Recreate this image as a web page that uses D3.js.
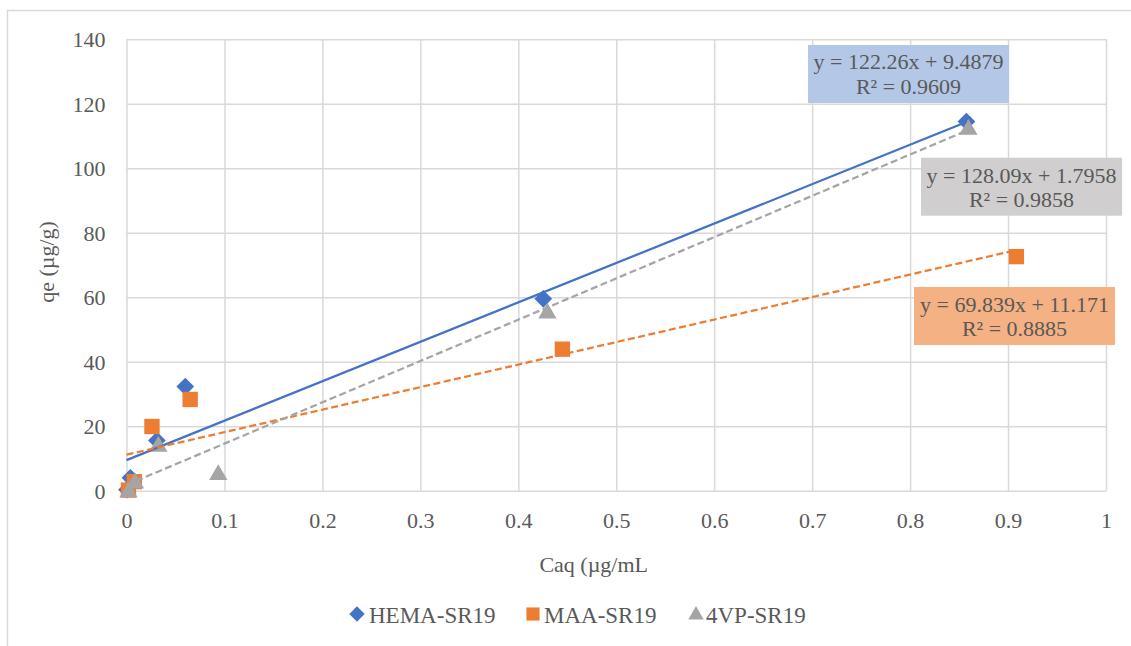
<!DOCTYPE html>
<html>
<head>
<meta charset="utf-8">
<script src="https://cdn.jsdelivr.net/npm/d3@7"></script>
<style>
  html, body { margin: 0; padding: 0; background: #ffffff; }
  svg text { font-family: "Liberation Serif", "Times New Roman", serif; fill: #595959; }
</style>
</head>
<body>
<svg id="chart" width="1131" height="646"></svg>
<script>
// ---- data ----
const seriesNames = ["HEMA-SR19", "MAA-SR19", "4VP-SR19"];
const hemaCaq = [0.0005, 0.004, 0.031, 0.060, 0.4255, 0.8575];
const hemaQe  = [0.3, 4.0, 15.6, 32.3, 59.5, 114.5];
const maaCaq  = [0.002, 0.008, 0.026, 0.065, 0.445, 0.9085];
const maaQe   = [0.2, 2.8, 19.9, 28.3, 43.9, 72.6];
const vpCaq   = [0.002, 0.0087, 0.0325, 0.0937, 0.4297, 0.8595];
const vpQe    = [0.0, 2.8, 14.2, 5.4, 55.5, 112.5];
const trendSlopes = [122.26, 69.839, 128.09];
const trendIntercepts = [9.4879, 11.171, 1.7958];
const trendLabels = [
  ["y = 122.26x + 9.4879", "R² = 0.9609"],
  ["y = 69.839x + 11.171", "R² = 0.8885"],
  ["y = 128.09x + 1.7958", "R² = 0.9858"]
];
const xTicks = [0, 0.1, 0.2, 0.3, 0.4, 0.5, 0.6, 0.7, 0.8, 0.9, 1];
const xTickLabels = ["0", "0.1", "0.2", "0.3", "0.4", "0.5", "0.6", "0.7", "0.8", "0.9", "1"];
const yTicks = [0, 20, 40, 60, 80, 100, 120, 140];
const xTitle = "Caq (µg/mL";
const yTitle = "qe (µg/g)";

// ---- styles ----
const colors = ["#4472C4", "#ED7D31", "#A5A5A5"];
const boxFills = ["#B4C7E7", "#F4B183", "#D0CECE"];
const gridColor = "#D9D9D9";
const serif = '"Liberation Serif", "Times New Roman", serif';

const svg = d3.select("#chart");
const plot = { left: 126.5, right: 1106, top: 39.3, bottom: 490.7 };

const x = d3.scaleLinear().domain([0, 1]).range([plot.left, plot.right]);
const y = d3.scaleLinear().domain([0, 140]).range([plot.bottom, plot.top]);

// outer chart border
svg.append("rect")
  .attr("x", 7.5).attr("y", 10.5)
  .attr("width", 1140).attr("height", 660)
  .attr("fill", "none").attr("stroke", gridColor).attr("stroke-width", 1.5);

// gridlines
const xGrid = d3.axisBottom(x).tickValues(xTicks).tickSize(-(plot.bottom - plot.top)).tickFormat("");
svg.append("g").attr("transform", `translate(0,${plot.bottom})`).call(xGrid)
  .call(g => g.select(".domain").remove())
  .call(g => g.selectAll("line").attr("stroke", gridColor).attr("stroke-width", 1.5));
const yGrid = d3.axisLeft(y).tickValues(yTicks).tickSize(-(plot.right - plot.left)).tickFormat("");
svg.append("g").attr("transform", `translate(${plot.left},0)`).call(yGrid)
  .call(g => g.select(".domain").remove())
  .call(g => g.selectAll("line").attr("stroke", gridColor).attr("stroke-width", 1.5));

// tick labels via axes
const xAxis = d3.axisBottom(x).tickValues(xTicks).tickSize(0).tickPadding(0)
  .tickFormat((d, i) => xTickLabels[i]);
svg.append("g").attr("transform", `translate(0,${plot.bottom})`).call(xAxis)
  .attr("font-family", serif)
  .call(g => g.select(".domain").remove())
  .call(g => g.selectAll("text").attr("dy", null).attr("y", 37)
    .style("font-size", "22px").attr("fill", "#595959").style("font-family", serif));
const yAxis = d3.axisLeft(y).tickValues(yTicks).tickSize(0).tickPadding(0).tickFormat(d3.format("d"));
svg.append("g").attr("transform", `translate(${plot.left},0)`).call(yAxis)
  .attr("font-family", serif)
  .call(g => g.select(".domain").remove())
  .call(g => g.selectAll("text").attr("dy", null).attr("x", -21).attr("y", 7.3)
    .style("font-size", "22px").attr("fill", "#595959").style("font-family", serif));

// axis titles
svg.append("text").attr("x", 648).attr("y", 572).attr("text-anchor", "end")
  .style("font-size", "22px").text(xTitle);
svg.append("text").attr("transform", "translate(54,262) rotate(-90)").attr("text-anchor", "middle")
  .style("font-size", "22px").text(yTitle);

// markers
const sym = [d3.symbolDiamond2, d3.symbolSquare2, d3.symbolTriangle2];
const symSizes = [200, 300, 240];
const dataSets = [
  hemaCaq.map((c, i) => [c, hemaQe[i]]),
  maaCaq.map((c, i) => [c, maaQe[i]]),
  vpCaq.map((c, i) => [c, vpQe[i]])
];
dataSets.forEach((ds, k) => {
  const gen = d3.symbol().type(sym[k]).size(symSizes[k]);
  svg.append("g").selectAll("path").data(ds).join("path")
    .attr("transform", d => `translate(${x(d[0])},${y(d[1]) + (k === 2 ? 1.5 : 0)})`)
    .attr("d", gen()).attr("fill", colors[k]);
});

// trendlines (from 0 to max x)
const dashes = [null, "7,3.5", "7,3.5"];
dataSets.forEach((ds, k) => {
  const x1 = d3.max(ds, d => d[0]);
  const line = d3.line().x(d => x(d[0])).y(d => y(d[1]));
  const pts = [0, x1].map(v => [v, trendSlopes[k] * v + trendIntercepts[k]]);
  svg.append("path").attr("d", line(pts))
    .attr("fill", "none").attr("stroke", colors[k]).attr("stroke-width", 2.25)
    .attr("stroke-dasharray", dashes[k]);
});

// equation boxes
const boxes = [
  { x0: 808, y0: 45, w: 201, h: 58, b1: 69.3, b2: 94 },
  { x0: 914, y0: 287, w: 201, h: 58, b1: 312, b2: 336 },
  { x0: 921, y0: 157.7, w: 201, h: 58, b1: 183, b2: 206.5 }
];
boxes.forEach((b, k) => {
  svg.append("rect").attr("x", b.x0).attr("y", b.y0).attr("width", b.w).attr("height", b.h)
    .attr("fill", boxFills[k]);
  const cx = b.x0 + b.w / 2;
  svg.append("text").attr("x", cx).attr("y", b.b1).attr("text-anchor", "middle")
    .style("font-size", "22px").text(trendLabels[k][0]);
  svg.append("text").attr("x", cx).attr("y", b.b2).attr("text-anchor", "middle")
    .style("font-size", "22px").text(trendLabels[k][1]);
});

// legend
const legendItems = [
  { mx: 357, tx: 369 },
  { mx: 533, tx: 544 },
  { mx: 696, tx: 706 }
];
legendItems.forEach((l, k) => {
  const gen = d3.symbol().type(sym[k]).size([150, 220, 170][k]);
  svg.append("path").attr("transform", `translate(${l.mx},${614 + (k === 2 ? 1 : 0)})`)
    .attr("d", gen()).attr("fill", colors[k]);
  svg.append("text").attr("x", l.tx).attr("y", 622.5).style("font-size", "23px").text(seriesNames[k]);
});
</script>
</body>
</html>
